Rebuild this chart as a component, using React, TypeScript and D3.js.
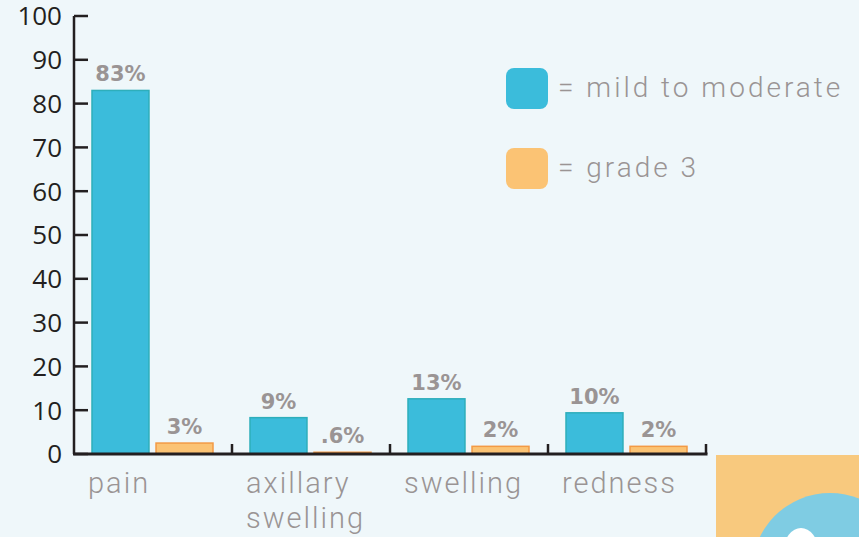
import React from 'react'
import * as d3 from 'd3'

const categories = ['pain', 'axillary swelling', 'swelling', 'redness']
const categoryLines = [['pain'], ['axillary', 'swelling'], ['swelling'], ['redness']]
const series = ['mild to moderate', 'grade 3']
const mildValues = [83, 8.3, 12.6, 9.4]
const grade3Values = [2.5, 0.4, 1.75, 1.75]
const mildLabels = ['83%', '9%', '13%', '10%']
const grade3Labels = ['3%', '.6%', '2%', '2%']
const yTicks = [0, 10, 20, 30, 40, 50, 60, 70, 80, 90, 100]

const W = 859
const H = 537
const BG = '#eff7fa'
const GREY = '#9a9494'
const INK = '#231f20'
const fills = ['#3bbcdb', '#fbc374']
const strokes = ['#2eaebb', '#f39a45']
const LIGHT_FONT = 'Roboto, "DejaVu Sans", sans-serif'

const App: React.FC = () => {
    const x0 = d3.scaleBand<string>().domain(categories).range([74, 706])
    const x1 = d3.scaleBand<string>().domain(series).range([18, 139]).paddingInner(0.11)
    const y = d3.scaleLinear().domain([0, 100]).range([454, 16])

    const rows = categories.map((c, i) => ({
        c,
        values: [mildValues[i], grade3Values[i]],
        labels: [mildLabels[i], grade3Labels[i]],
    }))

    return (
        <svg width={W} height={H} style={{ position: 'absolute', left: 0, top: 0, display: 'block' }}>
            <rect width={W} height={H} fill={BG} />

            {/* decoration bottom right */}
            <rect x={716} y={455} width={W - 716} height={H - 455} fill="#f8c97e" />
            <circle cx={830} cy={571} r={78} fill="#7fcce3" />
            <ellipse cx={801} cy={550} rx={17} ry={22} fill="#ffffff" />

            {/* bars */}
            {rows.map(r => (
                <g key={r.c} transform={`translate(${x0(r.c)},0)`}>
                    {r.values.map((v, j) => (
                        <g key={j}>
                            <rect
                                x={x1(series[j])}
                                y={y(v)}
                                width={x1.bandwidth()}
                                height={y(0) - y(v)}
                                fill={fills[j]}
                                stroke={strokes[j]}
                                strokeWidth={1.5}
                            />
                            <text
                                x={(x1(series[j]) as number) + x1.bandwidth() / 2}
                                y={y(v) - 9}
                                textAnchor="middle"
                                fontFamily="DejaVu Sans"
                                fontWeight="bold"
                                fontSize={21}
                                fill={GREY}
                            >
                                {r.labels[j]}
                            </text>
                        </g>
                    ))}
                </g>
            ))}

            {/* y axis */}
            <line x1={74} x2={74} y1={y(100)} y2={y(0)} stroke={INK} strokeWidth={2.5} />
            {yTicks.map(t => (
                <g key={t}>
                    <line x1={74} x2={88} y1={y(t)} y2={y(t)} stroke={INK} strokeWidth={2.5} />
                    <text
                        x={62}
                        y={y(t)}
                        dy="0.36em"
                        textAnchor="end"
                        fontFamily="Open Sans"
                        fontSize={26}
                        fill={INK}
                    >
                        {t}
                    </text>
                </g>
            ))}

            {/* x axis */}
            <line x1={73} x2={707.5} y1={y(0)} y2={y(0)} stroke={INK} strokeWidth={3} />
            {categories.map(c => (
                <line
                    key={c}
                    x1={(x0(c) as number) + x0.bandwidth()}
                    x2={(x0(c) as number) + x0.bandwidth()}
                    y1={y(0)}
                    y2={y(0) - 10}
                    stroke={INK}
                    strokeWidth={2.5}
                />
            ))}
            {categories.map((c, i) => (
                <text
                    key={c}
                    x={(x0(c) as number) + 14}
                    y={493}
                    fontFamily={LIGHT_FONT}
                    fontWeight={300}
                    fontSize={29}
                    letterSpacing={2}
                    fill={GREY}
                >
                    {categoryLines[i].map((l, k) => (
                        <tspan key={k} x={(x0(c) as number) + 14} dy={k === 0 ? 0 : 35}>{l}</tspan>
                    ))}
                </text>
            ))}

            {/* legend */}
            {series.map((s, i) => (
                <g key={s} transform={`translate(506,${68 + i * 80})`}>
                    <rect width={42} height={41} rx={8} fill={fills[i]} />
                    <text
                        x={52}
                        y={29}
                        fontFamily={LIGHT_FONT}
                        fontWeight={300}
                        fontSize={28}
                        letterSpacing={3}
                        fill={GREY}
                    >
                        {`= ${s}`}
                    </text>
                </g>
            ))}
        </svg>
    )
}

export default App
